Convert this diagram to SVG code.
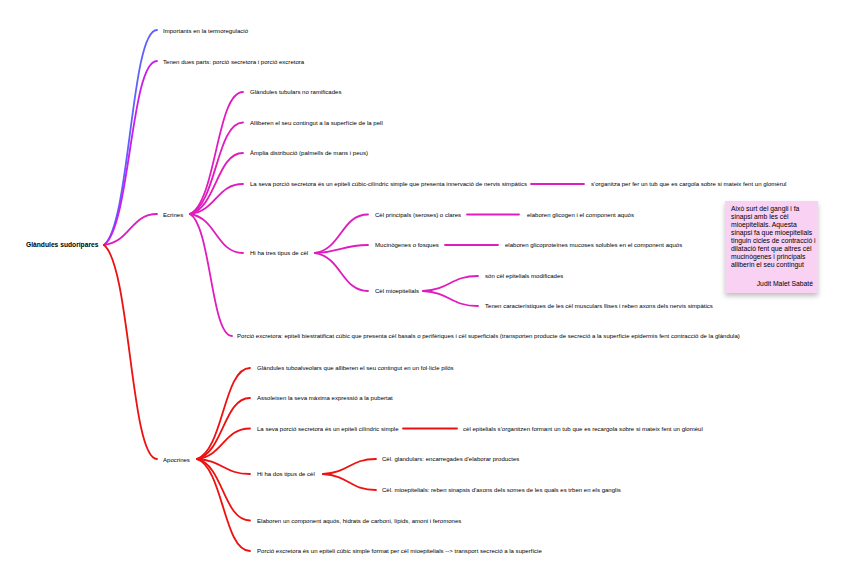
<svg xmlns="http://www.w3.org/2000/svg" width="848" height="581" viewBox="0 0 848 581">
<style>
text{font-family:"Liberation Sans",Arial,sans-serif;font-size:6.05px;fill:#000}
.root{font-weight:bold;font-size:6.7px}
.note{font-size:6.8px}
path{fill:none;stroke-width:1.8;stroke-linecap:round}
.b{stroke:#6060ff}
.v{stroke:#c81fee}
.m{stroke:#e01cbe}
.r{stroke:#ee1111}
</style>
<defs>
<filter id="sh" x="-20%" y="-20%" width="140%" height="150%">
<feDropShadow dx="0" dy="3" stdDeviation="2.5" flood-color="#000" flood-opacity="0.25"/>
</filter>
</defs>
<rect width="848" height="581" fill="#fff"/>
<g id="connectors">
<path class="b" d="M104 245 C130.5 223.5 130.5 30 157 30"/>
<path class="v" d="M104 245 C130.5 226.6 130.5 61 157 61"/>
<path class="m" d="M104 245 C130.5 241.9 130.5 214 157 214"/>
<path class="r" d="M104 245 C130.5 266.4 130.5 459 157 459"/>
<path class="m" d="M190 214 C216.5 201.8 216.5 92 243 92"/>
<path class="m" d="M190 214 C216.5 204.8 216.5 122.5 243 122.5"/>
<path class="m" d="M190 214 C216.5 207.9 216.5 153 243 153"/>
<path class="m" d="M190 214 C216.5 211 216.5 184 243 184"/>
<path class="m" d="M190 214 C216.5 217.9 216.5 253 243 253"/>
<path class="m" d="M190 214 C211 226.2 211 336 232 336"/>
<path class="m" d="M531 184 H584"/>
<path class="m" d="M315 253 C341.5 249.1 341.5 214.5 368 214.5"/>
<path class="m" d="M315 253 C341.5 252.2 341.5 245 368 245"/>
<path class="m" d="M315 253 C341.5 256.8 341.5 291 368 291"/>
<path class="m" d="M467 214.5 H519"/>
<path class="m" d="M445 245 H498"/>
<path class="m" d="M423 291 C450.5 289.5 450.5 276 478 276"/>
<path class="m" d="M423 291 C450.5 292.5 450.5 306 478 306"/>
<path class="r" d="M197 459 C223.5 449.9 223.5 368 250 368"/>
<path class="r" d="M197 459 C223.5 452.9 223.5 398 250 398"/>
<path class="r" d="M197 459 C223.5 456 223.5 428.5 250 428.5"/>
<path class="r" d="M197 459 C223.5 460.5 223.5 474 250 474"/>
<path class="r" d="M197 459 C223.5 465.1 223.5 520.5 250 520.5"/>
<path class="r" d="M197 459 C223.5 468.2 223.5 551 250 551"/>
<path class="r" d="M403 428.5 H457"/>
<path class="r" d="M323 474 C349.5 472.5 349.5 459 376 459"/>
<path class="r" d="M323 474 C349.5 475.6 349.5 490 376 490"/>
</g>
<g id="root"><text class="root" x="26" y="247.4">Glàndules sudorípares</text></g>
<g id="n-importants"><text x="163" y="32.6">Importants en la termoregulació</text></g>
<g id="n-tenen"><text x="163" y="63.6">Tenen dues parts: porció secretora i porció excretora</text></g>
<g id="n-ecrines"><text x="163" y="216.6">Ecrines</text></g>
<g id="n-apocrines"><text x="163" y="461.6">Apocrines</text></g>
<g id="e1"><text x="250" y="94.1">Glàndules tubulars no ramificades</text></g>
<g id="e2"><text x="250" y="124.6">Alliberen el seu contingut a la superfície de la pell</text></g>
<g id="e3"><text x="250" y="155.1">Àmplia distribució (palmells de mans i peus)</text></g>
<g id="e4"><text x="250" y="186.1">La seva porció secretora és un epiteli cúbic-cilíndric simple que presenta innervació de nervis simpàtics</text></g>
<g id="e4a"><text x="591" y="186.1">s'organitza per fer un tub que es cargola sobre si mateix fent un glomèrul</text></g>
<g id="e5"><text x="250" y="255.1">Hi ha tres tipus de cèl</text></g>
<g id="e6"><text x="237" y="338.1">Porció excretora: epiteli biestratificat cúbic que presenta cèl basals o perifèriques i cèl superficials (transporten producte de secreció a la superfície epidermis fent contracció de la glàndula)</text></g>
<g id="c1"><text x="375" y="216.6">Cèl principals (seroses) o clares</text></g>
<g id="c1a"><text x="527" y="216.6">elaboren glicogen i el component aquós</text></g>
<g id="c2"><text x="375" y="247.1">Mucinògenes o fosques</text></g>
<g id="c2a"><text x="505" y="247.1">elaboren glicoproteïnes mucoses solubles en el component aquós</text></g>
<g id="c3"><text x="375" y="293.1">Cèl mioepitelials</text></g>
<g id="c3a"><text x="485" y="278.1">són cèl epitelials modificades</text></g>
<g id="c3b"><text x="485" y="308.1">Tenen característiques de les cèl musculars llises i reben axons dels nervis simpàtics</text></g>
<g id="a1"><text x="257" y="370.1">Glàndules tuboalveolars que alliberen el seu contingut en un fol·licle pilós</text></g>
<g id="a2"><text x="257" y="400.1">Assoleixen la seva màxima expressió a la pubertat</text></g>
<g id="a3"><text x="257" y="430.6">La seva porció secretora és un epiteli cilíndric simple</text></g>
<g id="a3a"><text x="463" y="430.6">cèl epitelials s'organitzen formant un tub que es recargola sobre si mateix fent un glomèul</text></g>
<g id="a4"><text x="257" y="476.1">Hi ha dos tipus de cèl</text></g>
<g id="a4a"><text x="382" y="461.1">Cèl. glandulars: encarregades d'elaborar productes</text></g>
<g id="a4b"><text x="382" y="492.1">Cèl. mioepitelials: reben sinapsis d'axons dels somes de les quals es trben en els ganglis</text></g>
<g id="a5"><text x="257" y="522.6">Elaboren un component aquós, hidrats de carboni, lípids, amoni i feromones</text></g>
<g id="a6"><text x="257" y="553.1">Porció excretora és un epiteli cúbic simple format per cèl mioepitelials --&gt; transport secreció a la superfície</text></g>
<g id="note">
<rect x="725" y="201" width="93" height="92" fill="#f9d1f3" filter="url(#sh)"/>
<text class="note" x="731" y="211.4">Això surt del gangli i fa</text>
<text class="note" x="731" y="219.4">sinapsi amb les cèl</text>
<text class="note" x="731" y="227.4">mioepitelials. Aquesta</text>
<text class="note" x="731" y="235.4">sinapsi fa que mioepitelials</text>
<text class="note" x="731" y="243.4">tinguin cicles de contracció i</text>
<text class="note" x="731" y="251.4">dilatació fent que altres cèl</text>
<text class="note" x="731" y="259.4">mucinògenes i principals</text>
<text class="note" x="731" y="267.4">alliberin el seu contingut</text>
<text class="note" x="813" y="286.4" text-anchor="end">Judit Malet Sabaté</text>
</g>
</svg>
